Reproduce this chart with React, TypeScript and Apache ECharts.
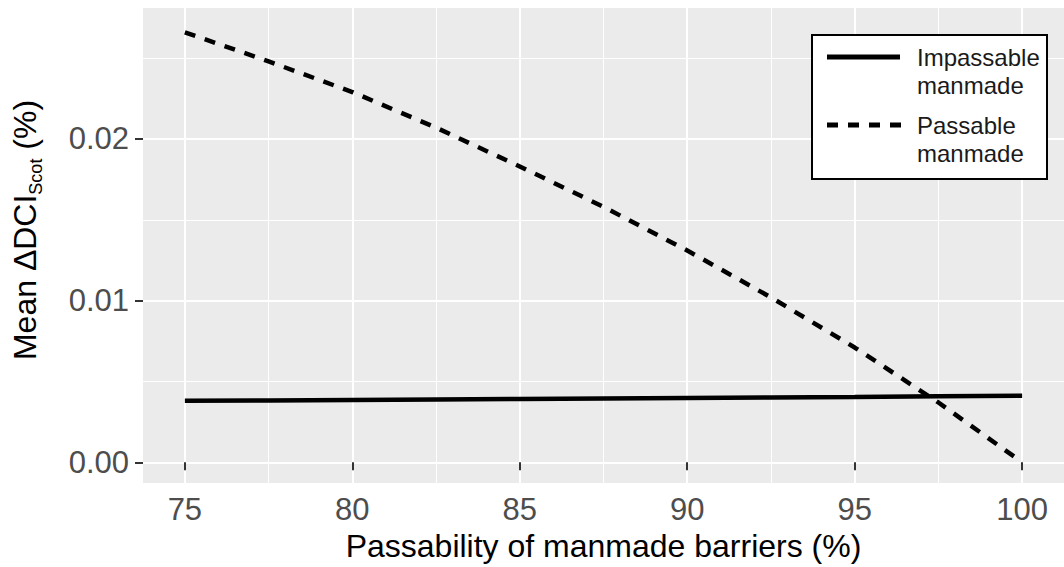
import React, { useEffect, useRef } from "react";
import * as echarts from "echarts";

const passability = [75, 77.5, 80, 82.5, 85, 87.5, 90, 92.5, 95, 97.5, 100];
const impassableManmade = [0.0038, 0.00383, 0.00386, 0.00389, 0.00392, 0.00395, 0.00398, 0.00401, 0.00404, 0.00408, 0.00412];
const passableManmade = [0.0266, 0.0248, 0.0229, 0.0207, 0.0183, 0.0158, 0.0131, 0.0102, 0.0071, 0.0037, 0.0];
const xTicks = [75, 80, 85, 90, 95, 100];
const xMinor = [77.5, 82.5, 87.5, 92.5, 97.5];
const yTicks = [0, 0.01, 0.02];
const yMinor = [0.005, 0.015, 0.025];
const seriesNames = ["Impassable manmade", "Passable manmade"];
const legendLabels = ["Impassable\nmanmade", "Passable\nmanmade"];
const xTitle = "Passability of manmade barriers (%)";

const FONT = "'Liberation Sans', Arial, Helvetica, sans-serif";
const DASH = [11, 10];

export default function App() {
  const ref = useRef<HTMLDivElement>(null);
  useEffect(() => {
    if (!ref.current) return;
    const chart = echarts.init(ref.current, undefined, { renderer: "svg" });
    const gridLeft = 143;
    const gridTop = 8;
    const gridWidth = 929;
    const gridHeight = 475;
    const lgX = 812;
    const lgY = 35;
    const option: any = {
      animation: false,
      backgroundColor: "#ffffff",
      textStyle: { fontFamily: FONT },
      grid: {
        left: gridLeft,
        top: gridTop,
        width: gridWidth,
        height: gridHeight,
        show: true,
        backgroundColor: "#EBEBEB",
        borderWidth: 0,
        containLabel: false,
      },
      xAxis: [
        {
          type: "value",
          min: 73.75,
          max: 101.25,
          axisLine: { show: false },
          axisTick: { show: true, customValues: xTicks, length: 8, lineStyle: { color: "#333333", width: 2 } },
          axisLabel: { customValues: xTicks, fontSize: 31, color: "#4D4D4D", margin: 11, fontFamily: FONT },
          splitLine: { show: true, lineStyle: { color: "#FFFFFF", width: 2 } },
          name: xTitle,
          nameLocation: "middle",
          nameGap: 47,
          nameTextStyle: { fontSize: 32, color: "#000000", fontFamily: FONT },
        },
        {
          type: "value",
          min: 73.75,
          max: 101.25,
          position: "top",
          axisLine: { show: false },
          axisTick: { show: false, customValues: xMinor },
          axisLabel: { show: false, customValues: xMinor },
          splitLine: { show: true, lineStyle: { color: "#FFFFFF", width: 1 } },
        },
      ],
      yAxis: [
        {
          type: "value",
          min: -0.00128,
          max: 0.0281,
          axisLine: { show: false },
          axisTick: { show: true, customValues: yTicks, length: 8, lineStyle: { color: "#333333", width: 2 } },
          axisLabel: {
            customValues: yTicks,
            fontSize: 31,
            color: "#4D4D4D",
            margin: 14,
            fontFamily: FONT,
            formatter: (v: number) => v.toFixed(2),
          },
          splitLine: { show: true, lineStyle: { color: "#FFFFFF", width: 2 } },
        },
        {
          type: "value",
          min: -0.00128,
          max: 0.0281,
          position: "right",
          axisLine: { show: false },
          axisTick: { show: false, customValues: yMinor },
          axisLabel: { show: false, customValues: yMinor },
          splitLine: { show: true, lineStyle: { color: "#FFFFFF", width: 1 } },
        },
      ],
      series: [
        {
          name: seriesNames[0],
          type: "line",
          xAxisIndex: 0,
          yAxisIndex: 0,
          symbol: "none",
          data: passability.map((x, i) => [x, impassableManmade[i]]),
          lineStyle: { color: "#000000", width: 4.5, type: "solid" },
          z: 5,
        },
        {
          name: seriesNames[1],
          type: "line",
          xAxisIndex: 0,
          yAxisIndex: 0,
          symbol: "none",
          data: passability.map((x, i) => [x, passableManmade[i]]),
          lineStyle: { color: "#000000", width: 4.5, type: DASH, cap: "butt" },
          z: 5,
        },
      ],
      graphic: [
        {
          type: "text",
          x: 25,
          y: 230,
          rotation: Math.PI / 2,
          style: {
            text: "Mean ΔDCI{sub|Scot} (%)",
            fontSize: 32,
            fontFamily: FONT,
            fill: "#000000",
            align: "center",
            verticalAlign: "middle",
            rich: {
              sub: { fontSize: 18, fontFamily: FONT, fill: "#000000", padding: [22, 0, 0, 0] },
            },
          },
        },
        {
          type: "rect",
          z: 100,
          shape: { x: lgX, y: lgY, width: 235, height: 144 },
          style: { fill: "#FFFFFF", stroke: "#000000", lineWidth: 2 },
        },
        {
          type: "line",
          z: 101,
          shape: { x1: lgX + 15, y1: 57, x2: lgX + 88, y2: 57 },
          style: { stroke: "#000000", lineWidth: 5, lineCap: "butt" },
        },
        {
          type: "line",
          z: 101,
          shape: { x1: lgX + 15, y1: 125, x2: lgX + 89, y2: 125 },
          style: { stroke: "#000000", lineWidth: 5, lineCap: "butt", lineDash: DASH },
        },
        {
          type: "text",
          z: 101,
          x: lgX + 105,
          y: 43,
          style: { text: legendLabels[0], fontSize: 24, lineHeight: 28, fontFamily: FONT, fill: "#1A1A1A", verticalAlign: "top" },
        },
        {
          type: "text",
          z: 101,
          x: lgX + 105,
          y: 111,
          style: { text: legendLabels[1], fontSize: 24, lineHeight: 28, fontFamily: FONT, fill: "#1A1A1A", verticalAlign: "top" },
        },
      ],
    };
    chart.setOption(option);
    return () => chart.dispose();
  }, []);
  return (
    <div
      ref={ref}
      style={{ position: "fixed", left: 0, top: 0, width: 1064, height: 567 }}
    />
  );
}
